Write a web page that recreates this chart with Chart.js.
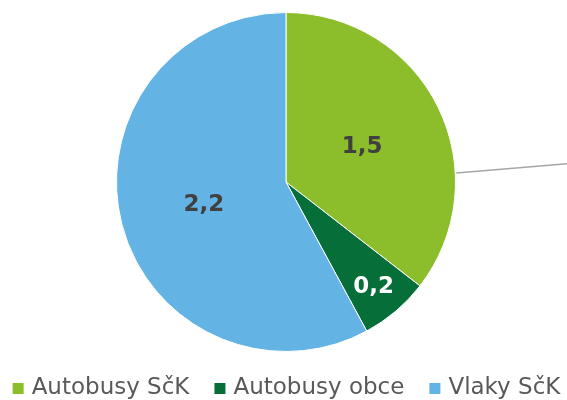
<!DOCTYPE html>
<html>
<head>
<meta charset="utf-8">
<script src="https://cdn.jsdelivr.net/npm/chart.js@4.4.0/dist/chart.umd.min.js"></script>
<style>
  html, body { margin: 0; padding: 0; background: #fff; }
  .chart-container { position: relative; width: 567px; height: 400px; }
</style>
</head>
<body>
<div class="chart-container"><canvas id="chart" width="567" height="400"></canvas></div>
<script>
const categories = ['Autobusy SčK', 'Autobusy obce', 'Vlaky SčK'];
const values = [1.5, 0.2, 2.2];          // printed in the slices
const shares = [35.5, 6.6, 57.9];        // share of the circle as drawn (%)
const colors = ['#8cbd2a', '#066e38', '#63b4e4'];
const labelColors = ['#404040', '#ffffff', '#404040'];
const labelRadius = [0.5, 0.8, 0.5];

const formatValue = v => v.toFixed(1).replace('.', ',');

const sliceLabels = {
  id: 'sliceLabels',
  afterDatasetsDraw(chart) {
    const ctx = chart.ctx;
    const arcs = chart.getDatasetMeta(0).data;
    ctx.save();
    ctx.font = 'bold 23px "DejaVu Sans", Verdana, sans-serif';
    ctx.textAlign = 'center';
    ctx.textBaseline = 'middle';
    arcs.forEach((arc, i) => {
      const mid = (arc.startAngle + arc.endAngle) / 2;
      const r = arc.outerRadius * labelRadius[i];
      ctx.fillStyle = labelColors[i];
      ctx.fillText(formatValue(values[i]), arc.x + Math.cos(mid) * r, arc.y + Math.sin(mid) * r + 2);
    });
    ctx.restore();
  }
};

// grey leader line leaving the first slice towards the right edge
const leaderLine = {
  id: 'leaderLine',
  afterDatasetsDraw(chart) {
    const ctx = chart.ctx;
    const arc = chart.getDatasetMeta(0).data[0];
    const a = -3 * Math.PI / 180;
    const sx = arc.x + Math.cos(a) * (arc.outerRadius + 1);
    const sy = arc.y + Math.sin(a) * (arc.outerRadius + 1);
    const ex = chart.width;
    const ey = sy - (ex - sx) * 0.085;
    ctx.save();
    ctx.strokeStyle = '#a6a6a6';
    ctx.lineWidth = 1.5;
    ctx.beginPath();
    ctx.moveTo(sx, sy);
    ctx.lineTo(ex, ey);
    ctx.stroke();
    ctx.restore();
  }
};

const bottomLegend = {
  id: 'bottomLegend',
  afterDraw(chart) {
    const ctx = chart.ctx;
    ctx.save();
    ctx.font = '23px "DejaVu Sans", Verdana, sans-serif';
    ctx.textBaseline = 'middle';
    const box = 11, boxGap = 8, itemGap = 25;
    const widths = categories.map(c => ctx.measureText(c).width);
    const total = widths.reduce((s, w) => s + box + boxGap + w, 0) + itemGap * (categories.length - 1);
    let x = (chart.width - total) / 2 + 3;
    const y = chart.chartArea.bottom + 36;
    categories.forEach((c, i) => {
      ctx.fillStyle = colors[i];
      ctx.fillRect(x, y - 5, box, box);
      x += box + boxGap;
      ctx.fillStyle = '#595959';
      ctx.fillText(c, x, y);
      x += widths[i] + itemGap;
    });
    ctx.restore();
  }
};

new Chart(document.getElementById('chart').getContext('2d'), {
  type: 'pie',
  data: {
    labels: categories,
    datasets: [{
      data: shares,
      backgroundColor: colors,
      borderColor: '#ffffff',
      borderWidth: 1,
      hoverOffset: 0
    }]
  },
  options: {
    responsive: false,
    animation: false,
    devicePixelRatio: 1,
    layout: { padding: { top: 12, bottom: 48, left: 5, right: 0 } },
    plugins: {
      legend: { display: false },
      tooltip: { enabled: false }
    }
  },
  plugins: [leaderLine, sliceLabels, bottomLegend]
});
</script>
</body>
</html>
